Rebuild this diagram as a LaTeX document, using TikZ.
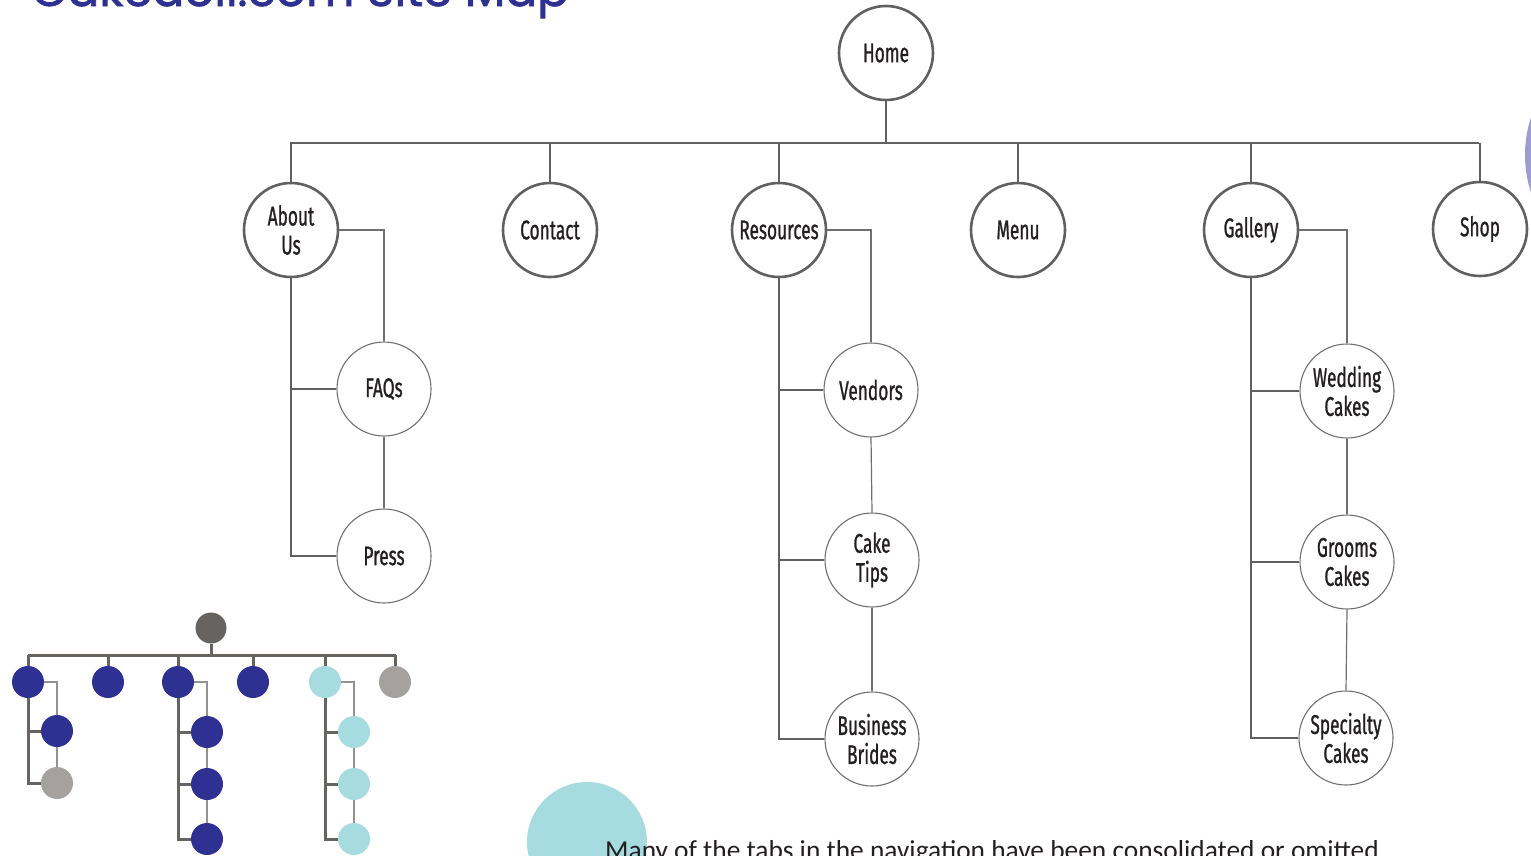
\documentclass[tikz,border=0pt]{standalone}
\usepackage{fontspec}
\setmainfont{Fira Sans}
\newfontfamily\condfont[FakeStretch=0.64,FakeBold=0.9]{Fira Sans}
\newfontfamily\titlefont[FakeBold=1.6]{Poppins}
\newfontfamily\bodyfont{Carlito}
\definecolor{linegray}{HTML}{606060}
\definecolor{subgray}{HTML}{707070}
\definecolor{textdark}{HTML}{231F20}
\definecolor{navy}{HTML}{2E3192}
\definecolor{cyanl}{HTML}{A6DCE0}
\definecolor{grayl}{HTML}{A6A09F}
\definecolor{darkg}{HTML}{666361}
\definecolor{peri}{HTML}{9C9CD2}
\begin{document}
\begin{tikzpicture}[x=1pt,y=-1pt,
  top/.style={circle,draw=linegray,line width=2.6pt,minimum size=94pt,inner sep=0pt,fill=white,
    font=\condfont\fontsize{27}{29}\selectfont,text=textdark,align=center},
  sub/.style={top,line width=1.1pt,draw=subgray},
  bus/.style={draw=linegray,line width=2.5pt},
  thin/.style={draw=subgray,line width=1.2pt},
  dot/.style={circle,minimum size=32pt,inner sep=0pt},
  sbus/.style={draw=darkg,line width=3pt},
  sthin/.style={draw=darkg!70,line width=1.6pt}]
\useasboundingbox (0,0) rectangle (1531,855);
% background decorations
\fill[peri] (1645,155) circle (120);
\fill[cyanl] (587,842) circle (60);
\node[anchor=base west,inner sep=0pt,font=\titlefont\fontsize{47}{47}\selectfont,text=navy] (title) at (31,6) {Cakedoll.com Site Map};
\node[anchor=base west,inner sep=0pt,font=\bodyfont\fontsize{27.4}{27.4}\selectfont,text=textdark] (body) at (605,859) {Many of the tabs in the navigation have been consolidated or omitted};
% main tree
\node[top] (home) at (886,53) {Home};
\node[top] (about) at (291,230) {About\\Us};
\node[top] (contact) at (550,230) {Contact};
\node[top] (res) at (779,230) {Resources};
\node[top] (menu) at (1018,230) {Menu};
\node[top] (gal) at (1251,230) {Gallery};
\node[top] (shop) at (1480,229) {Shop};
\node[sub] (faqs) at (384,389) {FAQs};
\node[sub] (press) at (384,556) {Press};
\node[sub] (vend) at (871,390) {Vendors};
\node[sub] (tips) at (872,560) {Cake\\Tips};
\node[sub] (brides) at (872,739) {Business\\Brides};
\node[sub] (wed) at (1347,391) {Wedding\\Cakes};
\node[sub] (groom) at (1347,562) {Grooms\\Cakes};
\node[sub] (spec) at (1346,738) {Specialty\\Cakes};
\coordinate (busL) at (290,143);
\coordinate (busR) at (1479,143);
\draw[bus] (busL) -- (busR);
\draw[bus] (home.south) -- (home.south |- busL);
\foreach \n in {about,contact,res,menu,gal,shop}{\draw[bus] (\n.north) -- (\n.north |- busL);}
\draw[thin] (about.east) -| (faqs.north);
\draw[thin] (faqs.south) -- (press.north);
\draw[bus] (about.south) |- (press.west);
\draw[bus] (about.south |- faqs.west) -- (faqs.west);
\draw[thin] (res.east) -| (vend.north);
\draw[thin] (vend.south) -- (tips.north);
\draw[thin] (tips.south) -- (brides.north);
\draw[bus] (res.south) |- (brides.west);
\draw[bus] (res.south |- vend.west) -- (vend.west);
\draw[bus] (res.south |- tips.west) -- (tips.west);
\draw[thin] (gal.east) -| (wed.north);
\draw[thin] (wed.south) -- (groom.north);
\draw[thin] (groom.south) -- (spec.north);
\draw[bus] (gal.south) |- (spec.west);
\draw[bus] (gal.south |- wed.west) -- (wed.west);
\draw[bus] (gal.south |- groom.west) -- (groom.west);
% small legend tree
\node[dot,fill=darkg,minimum size=31pt] (m0) at (211,628) {};
\node[dot,fill=navy] (m1) at (28,682) {};
\node[dot,fill=navy] (m2) at (108,682) {};
\node[dot,fill=navy] (m3) at (178,682) {};
\node[dot,fill=navy] (m4) at (253,682) {};
\node[dot,fill=cyanl] (m5) at (325,682) {};
\node[dot,fill=grayl] (m6) at (395,682) {};
\node[dot,fill=navy] (a1) at (57,731) {};
\node[dot,fill=grayl] (a2) at (57,783) {};
\node[dot,fill=navy] (b1) at (207,732) {};
\node[dot,fill=navy] (b2) at (207,784) {};
\node[dot,fill=navy] (b3) at (207,839) {};
\node[dot,fill=cyanl] (c1) at (354,732) {};
\node[dot,fill=cyanl] (c2) at (354,784) {};
\node[dot,fill=cyanl] (c3) at (354,839) {};
\coordinate (sbL) at (28,655);
\coordinate (sbR) at (396,655);
\draw[sbus] (sbL) -- (sbR);
\draw[sbus] (m0.south) -- (m0.south |- sbL);
\foreach \n in {m1,m2,m3,m4,m5,m6}{\draw[sbus] (\n.north) -- (\n.north |- sbL);}
\draw[sthin] (m1.east) -| (a1.north);
\draw[sthin] (a1.south) -- (a2.north);
\draw[sbus] (m1.south) |- (a2.west);
\draw[sbus] (m1.south |- a1.west) -- (a1.west);
\draw[sthin] (m3.east) -| (b1.north);
\draw[sthin] (b1.south) -- (b2.north);
\draw[sthin] (b2.south) -- (b3.north);
\draw[sbus] (m3.south) |- (b3.west);
\draw[sbus] (m3.south |- b1.west) -- (b1.west);
\draw[sbus] (m3.south |- b2.west) -- (b2.west);
\draw[sthin] (m5.east) -| (c1.north);
\draw[sthin] (c1.south) -- (c2.north);
\draw[sthin] (c2.south) -- (c3.north);
\draw[sbus] (m5.south) |- (c3.west);
\draw[sbus] (m5.south |- c1.west) -- (c1.west);
\draw[sbus] (m5.south |- c2.west) -- (c2.west);
\end{tikzpicture}
\end{document}
